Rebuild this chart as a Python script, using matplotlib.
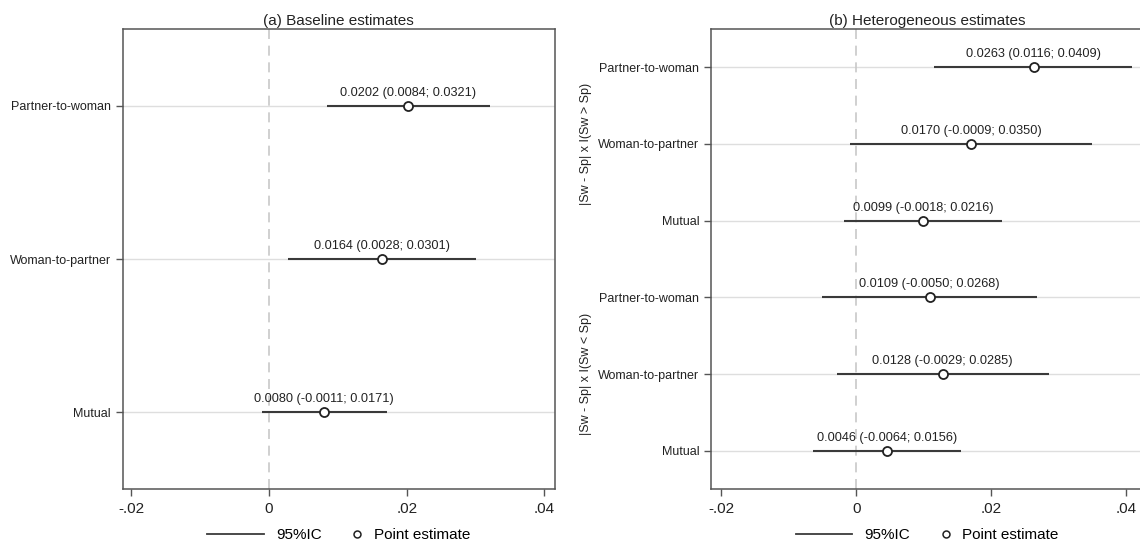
import numpy as np
import matplotlib
matplotlib.use("Agg")
import matplotlib.pyplot as plt
from matplotlib.lines import Line2D
from matplotlib.legend_handler import HandlerLine2D
import matplotlib.transforms as mtransforms

plt.rcParams['font.family'] = ['Liberation Sans', 'DejaVu Sans']

categories = ["Partner-to-woman", "Woman-to-partner", "Mutual"]

# (a) baseline
base_est = [0.0202, 0.0164, 0.0080]
base_lo = [0.0084, 0.0028, -0.0011]
base_hi = [0.0321, 0.0301, 0.0171]

# (b) heterogeneous, |Sw - Sp| x I(Sw > Sp)
hi_grp_est = [0.0263, 0.0170, 0.0099]
hi_grp_lo = [0.0116, -0.0009, -0.0018]
hi_grp_hi = [0.0409, 0.0350, 0.0216]

# (b) heterogeneous, |Sw - Sp| x I(Sw < Sp)
lo_grp_est = [0.0109, 0.0128, 0.0046]
lo_grp_lo = [-0.0050, -0.0029, -0.0064]
lo_grp_hi = [0.0268, 0.0285, 0.0156]

group_labels = ["|Sw - Sp| x I(Sw > Sp)", "|Sw - Sp| x I(Sw < Sp)"]
xticks = [-0.02, 0, 0.02, 0.04]
xticklabels = ["-.02", "0", ".02", ".04"]

LINE_C = "#3a3a3a"
GRID_C = "#dedede"
FRAME_C = "#555555"


class RightMarker(HandlerLine2D):
    # marker sits at the right end of the handle box
    def get_xdata(self, legend, xdescent, ydescent, width, height, fontsize):
        x = width - 3 - xdescent
        return np.array([x]), np.array([x])


def draw_panel(ax, est, lo, hi, labels, title, xlim):
    n = len(est)
    y = np.arange(n, 0, -1)
    for yy in y:
        ax.axhline(yy, color=GRID_C, lw=1.0, zorder=0)
    ax.axvline(0, color="#c8c8c8", lw=1.2, ls=(0, (6, 4)), zorder=0)
    ax.hlines(y, lo, hi, color=LINE_C, lw=1.5, zorder=2)
    ax.plot(est, y, "o", ms=6.5, mfc="white", mec="#222222", mew=1.3, zorder=3)
    for e, l, h, yy in zip(est, lo, hi, y):
        ax.annotate(f"{e:.4f} ({l:.4f}; {h:.4f})", (e, yy), xytext=(0, 5),
                    textcoords="offset points", ha="center", va="bottom",
                    fontsize=9.2, color="#222222")
    ax.set_yticks(y)
    ax.set_yticklabels(labels, fontsize=9)
    ax.set_ylim(0.5, n + 0.5)
    ax.set_xlim(*xlim)
    ax.set_xticks(xticks)
    ax.set_xticklabels(xticklabels, fontsize=11)
    ax.tick_params(axis="both", direction="out", length=5, width=1, color=FRAME_C, colors="#222222")
    ax.tick_params(axis="x", pad=4)
    for s in ax.spines.values():
        s.set_color(FRAME_C)
        s.set_linewidth(1.1)
    ax.set_title(title, fontsize=11, pad=3, color="#222222")
    handles = [Line2D([], [], color=LINE_C, lw=1.3),
               Line2D([], [], ls="none", marker="o", ms=5, mfc="white", mec="#222222", mew=1.1)]
    ax.legend(handles, ["95%IC", "Point estimate"], loc="center",
              bbox_to_anchor=(0.5, -0.1), ncol=2, frameon=False, fontsize=11,
              handlelength=3.7, handletextpad=0.8, columnspacing=-1.1,
              borderpad=0.2, handler_map={handles[1]: RightMarker()})


fig = plt.figure(figsize=(11.4, 5.47), dpi=100)
ax1 = fig.add_axes([0.1075, 0.106, 0.379, 0.841])
ax2 = fig.add_axes([0.6237, 0.106, 0.379, 0.841])

draw_panel(ax1, base_est, base_lo, base_hi, categories, "(a) Baseline estimates",
           (-0.0213, 0.0415))
draw_panel(ax2, hi_grp_est + lo_grp_est, hi_grp_lo + lo_grp_lo, hi_grp_hi + lo_grp_hi,
           categories + categories, "(b) Heterogeneous estimates", (-0.0215, 0.0425))

trans = mtransforms.blended_transform_factory(fig.transFigure, ax2.transData)
ax2.text(0.514, 5, group_labels[0], transform=trans, rotation=90, ha="center",
         va="center", fontsize=9, color="#222222")
ax2.text(0.514, 2, group_labels[1], transform=trans, rotation=90, ha="center",
         va="center", fontsize=9, color="#222222")

fig.savefig("out.png", dpi=100, facecolor="white")
